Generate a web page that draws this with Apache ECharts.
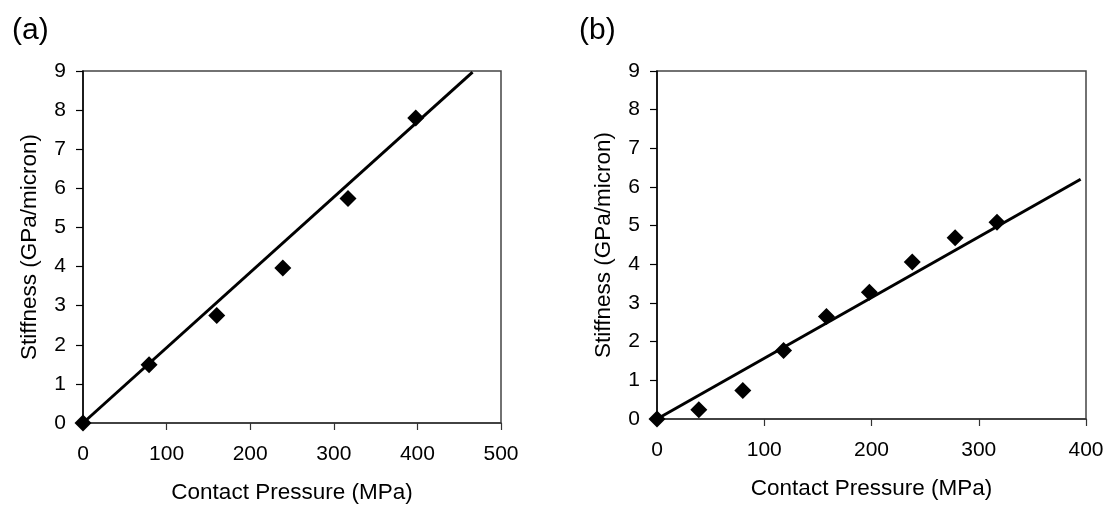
<!DOCTYPE html>
<html>
<head>
<meta charset="utf-8">
<script src="https://cdn.jsdelivr.net/npm/echarts@6/dist/echarts.min.js"></script>
<style>
html,body{margin:0;padding:0;background:#fff;}
#c{width:1114px;height:514px;}
</style>
</head>
<body>
<div id="c"></div>
<script>
// Panel (a)
const aPressure = [0, 79, 160, 239, 317, 398];
const aStiffness = [0, 1.49, 2.75, 3.96, 5.74, 7.8];
const aFitX = [0, 466];
const aFitY = [0, 8.97];
// Panel (b)
const bPressure = [0, 39, 80, 118, 158, 198, 238, 278, 317];
const bStiffness = [0, 0.24, 0.74, 1.77, 2.65, 3.28, 4.06, 4.69, 5.09];
const bFitX = [0, 395];
const bFitY = [0, 6.2];
const panelLabels = ['(a)', '(b)'];
const xTitle = 'Contact Pressure (MPa)';
const yTitle = 'Stiffness (GPa/micron)';

const FONT = '"Liberation Sans", Arial, sans-serif';
const pairs = (xs, ys) => xs.map((x, i) => [x, ys[i]]);

function xAxisCfg(gridIndex, max) {
  return {
    type: 'value', gridIndex, min: 0, max, interval: 100,
    name: xTitle, nameLocation: 'middle', nameGap: 58,
    nameTextStyle: {fontFamily: FONT, fontSize: 22.5, color: '#000'},
    axisLine: {lineStyle: {color: '#333', width: 1.5}},
    axisTick: {show: true, inside: false, length: 7, lineStyle: {color: '#333', width: 1.2}},
    axisLabel: {fontFamily: FONT, fontSize: 21, color: '#000', margin: 21},
    splitLine: {show: false}
  };
}
function yAxisCfg(gridIndex) {
  return {
    type: 'value', gridIndex, min: 0, max: 9, interval: 1,
    name: yTitle, nameLocation: 'middle', nameGap: 42,
    nameTextStyle: {fontFamily: FONT, fontSize: 22.5, color: '#000'},
    axisLine: {show: true, lineStyle: {color: '#000', width: 1.5}},
    axisTick: {show: true, inside: false, length: 7, lineStyle: {color: '#000', width: 1.2}},
    axisLabel: {fontFamily: FONT, fontSize: 21, color: '#000', margin: 17},
    splitLine: {show: false}
  };
}

const chart = echarts.init(document.getElementById('c'), null, {renderer: 'canvas'});
chart.setOption({
  animation: false,
  backgroundColor: '#fff',
  graphic: [
    {type: 'text', left: 12, top: 16, style: {text: panelLabels[0], font: '30px ' + FONT, fill: '#000'}},
    {type: 'text', left: 579, top: 16, style: {text: panelLabels[1], font: '30px ' + FONT, fill: '#000'}}
  ],
  grid: [
    {left: 83, top: 71, width: 418, height: 352, show: true, borderColor: '#444', borderWidth: 1.5, backgroundColor: 'transparent'},
    {left: 657, top: 71, width: 429, height: 348, show: true, borderColor: '#444', borderWidth: 1.5, backgroundColor: 'transparent'}
  ],
  xAxis: [xAxisCfg(0, 500), xAxisCfg(1, 400)],
  yAxis: [yAxisCfg(0), yAxisCfg(1)],
  series: [
    {type: 'line', xAxisIndex: 0, yAxisIndex: 0, data: pairs(aFitX, aFitY), showSymbol: false, symbol: 'none',
     lineStyle: {color: '#000', width: 3}, z: 2},
    {type: 'scatter', xAxisIndex: 0, yAxisIndex: 0, data: pairs(aPressure, aStiffness), symbol: 'diamond', symbolSize: 17,
     itemStyle: {color: '#000', opacity: 1}, z: 3},
    {type: 'line', xAxisIndex: 1, yAxisIndex: 1, data: pairs(bFitX, bFitY), showSymbol: false, symbol: 'none',
     lineStyle: {color: '#000', width: 3}, z: 2},
    {type: 'scatter', xAxisIndex: 1, yAxisIndex: 1, data: pairs(bPressure, bStiffness), symbol: 'diamond', symbolSize: 17,
     itemStyle: {color: '#000', opacity: 1}, z: 3}
  ]
});
</script>
</body>
</html>
